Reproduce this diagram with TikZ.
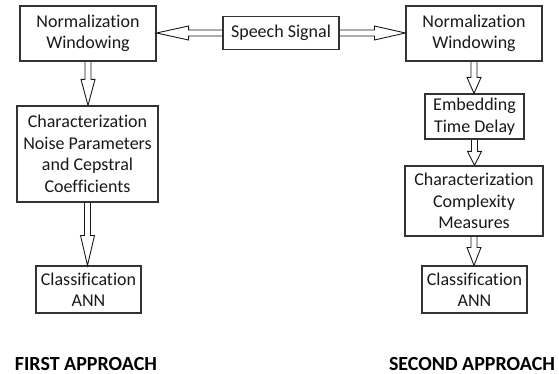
\documentclass[tikz,border=0pt]{standalone}
\usepackage{fontspec}
\setmainfont{Carlito}[Ligatures=CommonOff]
\usetikzlibrary{calc}

\begin{document}
\begin{tikzpicture}[x=1pt,y=-1pt,
  box/.style={draw=black!80, line width=1.1pt, align=center, inner sep=0pt,
    text=black!90, font=\fontsize{18}{21.5}\selectfont},
  arrowline/.style={draw=black!90, line width=0.9pt, line join=miter},
  % hollow double-line arrow, #1 = length of the head
  hollow/.style={to path={let \p1=(\tikztostart), \p2=(\tikztotarget),
      \n1={atan2(\y2-\y1,\x2-\x1)} in
    ($(\p1)+({\n1+90}:3pt)$) -- ($(\p2)+({\n1+180}:#1)+({\n1+90}:3pt)$)
    -- ($(\p2)+({\n1+180}:#1)+({\n1+90}:7pt)$) -- (\p2)
    -- ($(\p2)+({\n1+180}:#1)+({\n1-90}:7pt)$)
    -- ($(\p2)+({\n1+180}:#1)+({\n1-90}:3pt)$) -- ($(\p1)+({\n1-90}:3pt)$)}},
  title/.style={anchor=base, text=black, font=\fontsize{20}{24}\selectfont\bfseries}]
\useasboundingbox (0,0) rectangle (559,374);

% input
\node[box, minimum width=116pt, minimum height=33pt] (speech) at (281,33) {Speech Signal};

% first approach:
\node[box, minimum width=136pt, minimum height=55pt] (norm1) at (88,33.5) {Normalization\\Windowing};
\node[box, minimum width=141pt, minimum height=96pt] (char1) at (87.5,154) {Characterization\\Noise Parameters\\and Cepstral\\Coefficients};
\node[box, minimum width=105pt, minimum height=47pt] (class1) at (88.5,289.5) {Classification\\ANN};
\node[title] (first) at (86,370) {FIRST APPROACH};

% second approach:
\node[box, minimum width=136pt, minimum height=55pt] (norm2) at (474,33.5) {Normalization\\Windowing};
\node[box, minimum width=99pt, minimum height=45pt] (embed) at (474.5,116.5) {Embedding\\Time Delay};
\node[box, minimum width=138pt, minimum height=70pt] (char2) at (474,201) {Characterization\\Complexity\\Measures};
\node[box, minimum width=105pt, minimum height=47pt] (class2) at (474.5,289.5) {Classification\\ANN};
\node[title] (second) at (472,370) {SECOND APPROACH};

% arrows
\draw[arrowline] (speech.west) to[hollow=32pt] (speech.west -| norm1.east);
\draw[arrowline] (speech.east) to[hollow=31pt] (speech.east -| norm2.west);
\draw[arrowline] (norm1.south) to[hollow=26pt] (norm1.south |- char1.north);
\draw[arrowline] (char1.south) to[hollow=30pt] (char1.south |- class1.north);
\draw[arrowline] (norm2.south) to[hollow=16pt] (norm2.south |- embed.north);
\draw[arrowline] (embed.south) to[hollow=14pt] (embed.south |- char2.north);
\draw[arrowline] (char2.south) to[hollow=18pt] (char2.south |- class2.north);
\end{tikzpicture}
\end{document}
